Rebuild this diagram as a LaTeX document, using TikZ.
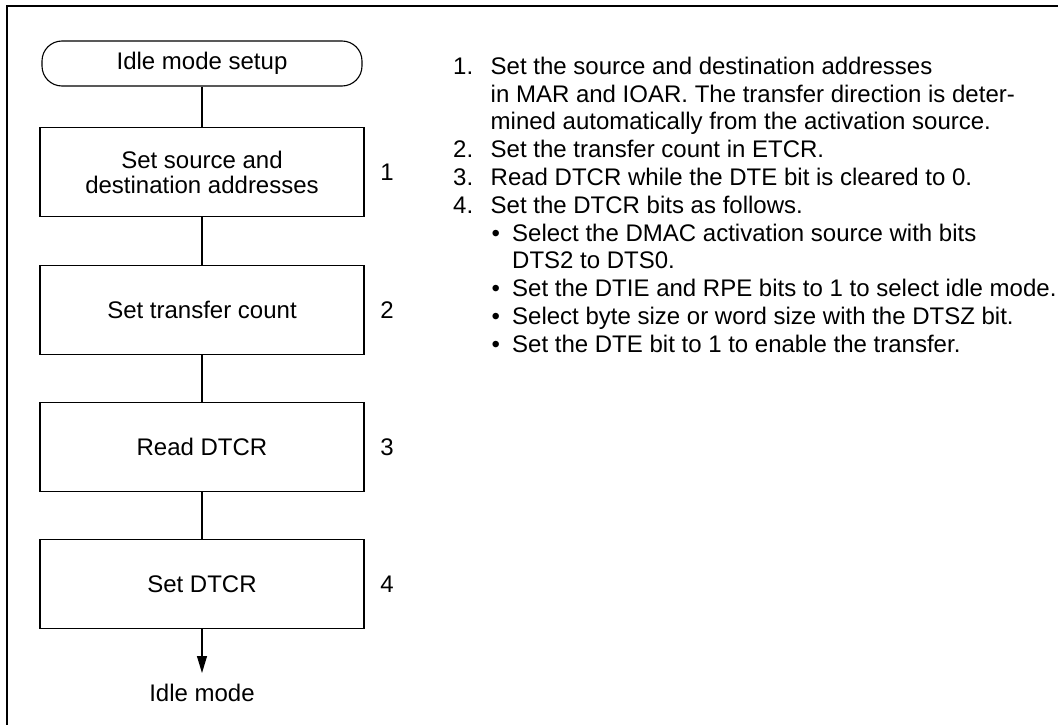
\documentclass[tikz,border=0pt]{standalone}
\usepackage{fontspec}
\setmainfont{Liberation Sans}
\usetikzlibrary{arrows.meta}
\begin{document}
\begin{tikzpicture}[x=1pt,y=-1pt,
  every node/.style={font=\fontsize{24}{27.8}\selectfont, inner sep=0pt},
  stepbox/.style={draw, line width=1.1pt, minimum width=324pt, minimum height=89pt, align=center, font=\fontsize{24}{25}\selectfont},
  term/.style={draw, line width=1.1pt, rounded corners=20pt, minimum width=320pt, minimum height=45pt},
  conn/.style={line width=1.1pt},
  frame/.style={line width=2.2pt},
  ln/.style={anchor=base west}]
\useasboundingbox (0,0) rectangle (1058,725);
\coordinate (fr) at (1058,6);
\coordinate (fc) at (7,6);
\coordinate (fb) at (7,725);
\draw[frame] (fr) -- (fc) -- (fb);

\node[term] (start) at (202,63.5) {Idle mode setup};
\node[stepbox] (s1) at (202,172) {Set source and\\destination addresses};
\node[stepbox] (s2) at (202,310) {Set transfer count};
\node[stepbox] (s3) at (202,447) {Read DTCR};
\node[stepbox] (s4) at (202,584) {Set DTCR};
\node (n1) at (387,172) {1};
\node (n2) at (387,310) {2};
\node (n3) at (387,447) {3};
\node (n4) at (387,584) {4};
\node (idle) at (202,693) {Idle mode};
\coordinate (tip) at (202,673);

\draw[conn] (start) -- (s1);
\draw[conn] (s1) -- (s2);
\draw[conn] (s2) -- (s3);
\draw[conn] (s3) -- (s4);
\draw[conn,-{Triangle[length=17pt,width=10pt]}] (s4) -- (tip);

\node[ln] (a1) at (453,74.3) {1.};
\node[ln] (l1) at (490.5,74.3) {Set the source and destination addresses};
\node[ln] (l2) at (490.5,102.1) {in MAR and IOAR. The transfer direction is deter-};
\node[ln] (l3) at (490.5,129.9) {mined automatically from the activation source.};
\node[ln] (a2) at (453,157.7) {2.};
\node[ln] (l4) at (490.5,157.7) {Set the transfer count in ETCR.};
\node[ln] (a3) at (453,185.5) {3.};
\node[ln] (l5) at (490.5,185.5) {Read DTCR while the DTE bit is cleared to 0.};
\node[ln] (a4) at (453,213.3) {4.};
\node[ln] (l6) at (490.5,213.3) {Set the DTCR bits as follows.};
\node[ln] (b1) at (491.5,241.1) {•};
\node[ln] (l7) at (512,241.1) {Select the DMAC activation source with bits};
\node[ln] (l8) at (512,268.9) {DTS2 to DTS0.};
\node[ln] (b2) at (491.5,296.7) {•};
\node[ln] (l9) at (512,296.7) {Set the DTIE and RPE bits to 1 to select idle mode.};
\node[ln] (b3) at (491.5,324.5) {•};
\node[ln] (l10) at (512,324.5) {Select byte size or word size with the DTSZ bit.};
\node[ln] (b4) at (491.5,352.3) {•};
\node[ln] (l11) at (512,352.3) {Set the DTE bit to 1 to enable the transfer.};
\end{tikzpicture}
\end{document}
